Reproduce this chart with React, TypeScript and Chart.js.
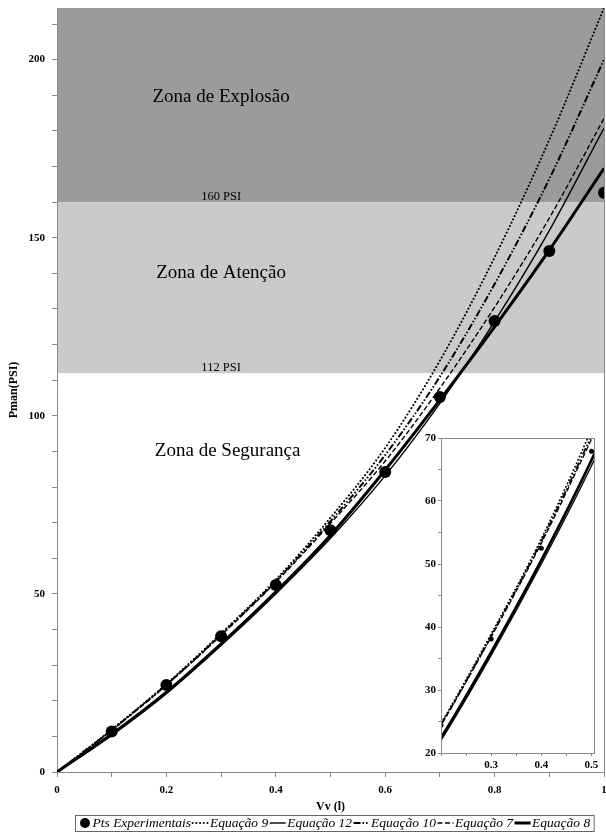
import React, { useEffect, useRef } from 'react';
import { Chart, registerables } from 'chart.js';

Chart.register(...registerables);

// ---------- data ----------
const volumes = [0, 0.1, 0.2, 0.3, 0.4, 0.5, 0.6, 0.7, 0.8, 0.9, 1.0];
const eq9 = [0, 11.9, 24.7, 38.9, 54.0, 71.4, 91.0, 115.5, 144.5, 177.5, 214.5];
const eq12 = [0, 10.3, 22.0, 35.5, 50.0, 65.6, 83.2, 103.5, 126.5, 152.0, 180.8];
const eq10 = [0, 11.8, 24.5, 38.6, 53.6, 70.4, 89.0, 111.0, 137.0, 166.5, 200.0];
const eq7 = [0, 11.7, 24.4, 38.4, 53.3, 69.8, 87.3, 107.8, 130.5, 155.5, 183.5];
const eq8 = [0, 10.6, 22.4, 36.0, 50.6, 66.5, 84.8, 104.5, 125.0, 146.5, 169.5];

const expVolumes = [0.1, 0.2, 0.3, 0.4, 0.5, 0.6, 0.7, 0.8, 0.9, 1.0];
const expPressures = [11.4, 24.4, 38.1, 52.5, 67.9, 84.2, 105.3, 126.6, 146.3, 162.6];

const seriesLabels = ['Pts Experimentais', 'Equação 9', 'Equação 12', 'Equação 10', 'Equação 7', 'Equação 8'];

const zoneLimits = [112, 160];
const zoneLimitLabels = ['112 PSI', '160 PSI'];
const zoneNames = ['Zona de Segurança', 'Zona de Atenção', 'Zona de Explosão'];
const zoneNameX = [0.312, 0.3, 0.3];
const zoneNameY = [90, 140, 189.6];
const zoneLimitLabelX = [0.3, 0.3];

const mainXRange = [0, 1];
const mainYRange = [0, 214.5];
const insetXRange = [0.2, 0.505];
const insetYRange = [20, 70];

// ---------- styles ----------
const FONT = "'Liberation Serif', 'Times New Roman', serif";
const AXIS_GRAY = '#8a8a8a';

type LineStyle = { width: number; dash: number[]; cap: CanvasLineCap };
const lineStyles: LineStyle[] = [
  { width: 2, dash: [0.1, 3.6], cap: 'round' }, // Eq 9 dotted
  { width: 1.4, dash: [], cap: 'butt' }, // Eq 12 thin solid
  { width: 2, dash: [7, 2, 1.5, 2, 1.5, 2], cap: 'butt' }, // Eq 10 dash-dot-dot
  { width: 1.4, dash: [5, 2.5], cap: 'butt' }, // Eq 7 dashed
  { width: 3, dash: [], cap: 'butt' }, // Eq 8 thick solid
];
const lineSeries = [eq9, eq12, eq10, eq7, eq8];

function buildDatasets(pointRadius: number, widthScale: number) {
  const pts = {
    type: 'line',
    label: seriesLabels[0],
    data: expVolumes.map((v, i) => ({ x: v, y: expPressures[i] })),
    showLine: false,
    pointRadius,
    pointHoverRadius: pointRadius,
    pointBackgroundColor: '#000',
    pointBorderColor: '#000',
    pointBorderWidth: 0,
    isPoints: true,
  };
  const lines = lineSeries.map((s, k) => ({
    type: 'line',
    label: seriesLabels[k + 1],
    data: volumes.map((v, i) => ({ x: v, y: s[i] })),
    borderColor: '#000',
    borderWidth: lineStyles[k].width * widthScale,
    borderDash: lineStyles[k].dash,
    borderCapStyle: lineStyles[k].cap,
    pointRadius: 0,
    pointHoverRadius: 0,
    fill: false,
    cubicInterpolationMode: 'monotone',
    styleIdx: k,
  }));
  return [pts, ...lines];
}

const zonePlugin = {
  id: 'zones',
  beforeDraw(chart: any) {
    const { ctx, chartArea: a, scales } = chart;
    const x = scales.x;
    const y = scales.y;
    const yLow = y.getPixelForValue(zoneLimits[0]);
    const yHigh = y.getPixelForValue(zoneLimits[1]);
    ctx.save();
    ctx.fillStyle = '#9b9b9b';
    ctx.fillRect(a.left, a.top, a.right - a.left, yHigh - a.top);
    ctx.fillStyle = '#cacaca';
    ctx.fillRect(a.left, yHigh, a.right - a.left, yLow - yHigh);
    // right border
    ctx.strokeStyle = AXIS_GRAY;
    ctx.lineWidth = 1;
    ctx.beginPath();
    ctx.moveTo(a.right + 0.5, a.top);
    ctx.lineTo(a.right + 0.5, a.bottom);
    ctx.stroke();
    ctx.fillStyle = '#000';
    ctx.textAlign = 'center';
    ctx.textBaseline = 'middle';
    ctx.font = `19px ${FONT}`;
    zoneNames.forEach((t, i) => {
      ctx.fillText(t, x.getPixelForValue(zoneNameX[i]), y.getPixelForValue(zoneNameY[i]));
    });
    ctx.font = `12.5px ${FONT}`;
    ctx.textBaseline = 'alphabetic';
    zoneLimitLabels.forEach((t, i) => {
      ctx.fillText(t, x.getPixelForValue(zoneLimitLabelX[i]), y.getPixelForValue(zoneLimits[i]) - 2);
    });
    ctx.restore();
  },
};

const legendPlugin = {
  id: 'boxLegend',
  afterDraw(chart: any) {
    const { ctx } = chart;
    const left = 75;
    const top = 815;
    const h = 16;
    const cy = top + h / 2;
    ctx.save();
    ctx.font = `italic 13.5px ${FONT}`;
    ctx.textBaseline = 'middle';
    ctx.textAlign = 'left';
    ctx.fillStyle = '#000';
    let x = left + 5;
    chart.data.datasets.forEach((ds: any) => {
      if (ds.isPoints) {
        ctx.beginPath();
        ctx.arc(x + 5, cy, 5, 0, Math.PI * 2);
        ctx.fill();
        x += 11;
      } else {
        const st = lineStyles[ds.styleIdx];
        ctx.save();
        ctx.strokeStyle = '#000';
        ctx.lineWidth = st.width;
        ctx.lineCap = st.cap;
        ctx.setLineDash(st.dash);
        ctx.beginPath();
        ctx.moveTo(x, cy);
        ctx.lineTo(x + 16, cy);
        ctx.stroke();
        ctx.restore();
        x += 16;
      }
      x += 1.5;
      ctx.fillText(ds.label, x, cy + 0.5);
      x += ctx.measureText(ds.label).width + 1.5;
    });
    ctx.strokeStyle = '#666';
    ctx.lineWidth = 1;
    ctx.strokeRect(left + 0.5, top + 0.5, x - left + 2, h);
    ctx.restore();
  },
};

const insetFramePlugin = {
  id: 'insetFrame',
  beforeDraw(chart: any) {
    const { ctx, chartArea: a } = chart;
    ctx.save();
    ctx.fillStyle = '#fff';
    ctx.fillRect(a.left, a.top, a.right - a.left, a.bottom - a.top);
    ctx.restore();
  },
  afterDraw(chart: any) {
    const { ctx, chartArea: a } = chart;
    ctx.save();
    ctx.strokeStyle = AXIS_GRAY;
    ctx.lineWidth = 1;
    ctx.strokeRect(Math.round(a.left) + 0.5, Math.round(a.top) + 0.5, a.right - a.left, a.bottom - a.top);
    ctx.restore();
  },
};

const tickFont = (size: number) => ({ family: FONT, size, weight: 'bold' as const });

export default function App() {
  const mainRef = useRef<HTMLCanvasElement>(null);
  const insetRef = useRef<HTMLCanvasElement>(null);

  useEffect(() => {
    const main = new Chart(mainRef.current as HTMLCanvasElement, {
      type: 'line',
      data: { datasets: buildDatasets(6, 1) as any },
      options: {
        animation: false,
        responsive: false,
        events: [],
        layout: { padding: { left: 0, right: 2, top: 8, bottom: 18 } },
        plugins: { legend: { display: false }, tooltip: { enabled: false } },
        scales: {
          x: {
            type: 'linear',
            min: mainXRange[0],
            max: mainXRange[1],
            border: { color: AXIS_GRAY, width: 1 },
            grid: { drawOnChartArea: false, drawTicks: true, tickLength: 5, tickColor: AXIS_GRAY },
            ticks: {
              stepSize: 0.1,
              includeBounds: false,
              autoSkip: false,
              maxRotation: 0,
              padding: 7,
              color: '#000',
              font: tickFont(11),
              callback: (v: any) => {
                const r = Math.round(Number(v) * 10);
                return r % 2 === 0 ? String(r / 10) : '';
              },
            },
            title: {
              display: true,
              text: 'Vv (l)',
              color: '#000',
              font: tickFont(12),
              padding: { top: 0, bottom: 0 },
            },
            afterFit: (s: any) => {
              s.height = 42;
              s.paddingLeft = 0;
              s.paddingRight = 0;
            },
          },
          y: {
            type: 'linear',
            min: mainYRange[0],
            max: mainYRange[1],
            border: { color: AXIS_GRAY, width: 1 },
            grid: { drawOnChartArea: false, drawTicks: true, tickLength: 5, tickColor: AXIS_GRAY },
            ticks: {
              stepSize: 10,
              includeBounds: false,
              autoSkip: false,
              padding: 7,
              color: '#000',
              font: tickFont(11),
              callback: (v: any) => (Number(v) % 50 === 0 ? String(v) : ''),
            },
            title: {
              display: true,
              text: 'Pman(PSI)',
              color: '#000',
              font: tickFont(12),
              padding: { top: 7, bottom: 0 },
            },
            afterFit: (s: any) => {
              s.width = 57;
              s.paddingTop = 0;
              s.paddingBottom = 0;
            },
          },
        },
      } as any,
      plugins: [zonePlugin, legendPlugin],
    });

    const inset = new Chart(insetRef.current as HTMLCanvasElement, {
      type: 'line',
      data: { datasets: buildDatasets(2.5, 0.9) as any },
      options: {
        animation: false,
        responsive: false,
        events: [],
        layout: { padding: { left: 0, right: 12, top: 8, bottom: 0 } },
        plugins: { legend: { display: false }, tooltip: { enabled: false } },
        scales: {
          x: {
            type: 'linear',
            min: insetXRange[0],
            max: insetXRange[1],
            border: { display: false },
            grid: { drawOnChartArea: false, drawTicks: true, tickLength: 3, tickColor: AXIS_GRAY },
            ticks: {
              stepSize: 0.05,
              includeBounds: false,
              autoSkip: false,
              maxRotation: 0,
              padding: 3,
              color: '#000',
              font: tickFont(11),
              callback: (v: any) => {
                const r = Math.round(Number(v) * 100);
                return r % 10 === 0 && r !== 20 ? (r / 100).toFixed(1) : '';
              },
            },
            afterFit: (s: any) => {
              s.height = 20;
              s.paddingLeft = 0;
              s.paddingRight = 0;
            },
          },
          y: {
            type: 'linear',
            min: insetYRange[0],
            max: insetYRange[1],
            border: { display: false },
            grid: { drawOnChartArea: false, drawTicks: true, tickLength: 3, tickColor: AXIS_GRAY },
            ticks: {
              stepSize: 5,
              includeBounds: false,
              autoSkip: false,
              padding: 2,
              color: '#000',
              font: tickFont(11),
              callback: (v: any) => (Number(v) % 10 === 0 ? String(v) : ''),
            },
            afterFit: (s: any) => {
              s.width = 30;
              s.paddingTop = 0;
              s.paddingBottom = 0;
            },
          },
        },
      } as any,
      plugins: [insetFramePlugin],
    });

    return () => {
      main.destroy();
      inset.destroy();
    };
  }, []);

  return (
    <div style={{ position: 'fixed', left: 0, top: 0, width: 606, height: 832, background: '#fff', overflow: 'hidden' }}>
      <canvas ref={mainRef} width={610} height={832} style={{ position: 'absolute', left: 0, top: 0, display: 'block' }} />
      <canvas ref={insetRef} width={195} height={343} style={{ position: 'absolute', left: 411, top: 430, display: 'block' }} />
    </div>
  );
}
